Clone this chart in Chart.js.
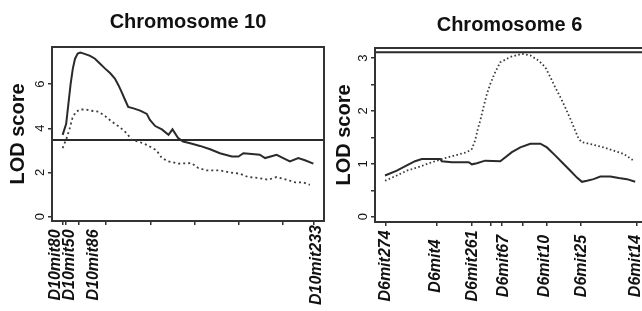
<!DOCTYPE html>
<html>
<head>
<meta charset="utf-8">
<script src="https://cdn.jsdelivr.net/npm/chart.js@4.4.0/dist/chart.umd.min.js"></script>
<style>
  html, body { margin: 0; padding: 0; background: #fff; overflow: hidden; }
  body { width: 642px; height: 311px; position: relative; }
  canvas { position: absolute; top: 0; }
  #chr10 { left: 0; }
  #chr6 { left: 322px; }
</style>
</head>
<body>
<canvas id="chr10" width="330" height="311"></canvas>
<canvas id="chr6" width="330" height="311"></canvas>
<script>
// Chromosome 10, positions in cM
const chr10SolidX = [2.4, 3.2, 3.7, 4.2, 4.7, 5.2, 5.8, 6.4, 7.2, 8.6, 9.7, 10.8, 12.0, 13.1, 14.2, 15.0, 15.7, 16.5, 17.2, 18.4, 19.9, 21.4, 22.1, 23.3, 24.8, 26.3, 27.2, 28.5, 29.6, 31.2, 33.4, 35.7, 37.9, 40.6, 42.1, 43.2, 45.1, 46.9, 48.1, 50.7, 52.2, 53.7, 55.6, 57.1, 59.0];
const chr10Solid  = [3.7, 4.2, 5.1, 6.0, 6.7, 7.15, 7.38, 7.43, 7.38, 7.28, 7.15, 6.93, 6.7, 6.5, 6.25, 5.95, 5.65, 5.28, 4.97, 4.9, 4.8, 4.65, 4.38, 4.1, 3.95, 3.7, 3.95, 3.55, 3.4, 3.32, 3.2, 3.05, 2.87, 2.72, 2.72, 2.87, 2.83, 2.8, 2.65, 2.8, 2.65, 2.5, 2.65, 2.55, 2.4];
const chr10DotX   = [2.4, 3.3, 4.0, 4.6, 5.4, 6.4, 7.6, 8.6, 10.5, 12.0, 13.5, 15.3, 16.9, 18.0, 19.5, 21.4, 23.6, 24.8, 26.3, 28.5, 31.5, 33.0, 34.9, 37.9, 40.2, 42.4, 44.3, 46.6, 48.8, 50.7, 53.0, 54.9, 56.7, 58.2];
const chr10Dotted = [3.1, 3.55, 4.0, 4.45, 4.75, 4.85, 4.85, 4.8, 4.75, 4.55, 4.3, 4.05, 3.77, 3.47, 3.4, 3.25, 3.0, 2.65, 2.5, 2.4, 2.42, 2.2, 2.09, 2.09, 2.0, 1.94, 1.79, 1.75, 1.67, 1.79, 1.67, 1.55, 1.55, 1.44];
const chr10Threshold = 3.47;
const chr10Markers = ['D10mit80', 'D10mit50', 'D10mit86', 'D10mit233'];
const chr10LabelAt = [0.8, 3.9, 9.5, 59.7];
const chr10Ticks = [2.4, 3.1, 6.1, 12.2, 22.2, 32.2, 42.2, 52.2, 59.0];
const chr10YTicks = [0, 2, 4, 6];

// Chromosome 6, positions in cM
const chr6SolidX = [-0.2, 2.75, 5.25, 7.3, 9.0, 13.6, 14.0, 16.5, 20.7, 21.5, 22.75, 24.8, 28.6, 31.5, 33.6, 36.1, 38.6, 40.25, 42.3, 44.0, 46.1, 47.75, 49.0, 50.25, 51.9, 53.6, 56.1, 58.2, 60.25, 62.3];
const chr6Solid  = [0.78, 0.87, 0.97, 1.05, 1.09, 1.09, 1.05, 1.03, 1.03, 0.99, 1.01, 1.06, 1.05, 1.22, 1.31, 1.38, 1.38, 1.31, 1.16, 1.03, 0.87, 0.74, 0.66, 0.68, 0.71, 0.76, 0.76, 0.73, 0.71, 0.66];
const chr6DotX   = [-0.2, 2.75, 5.25, 8.6, 11.5, 14.0, 17.3, 20.25, 21.5, 22.3, 22.9, 23.6, 24.4, 25.25, 26.1, 27.3, 28.6, 31.1, 34.0, 36.1, 38.2, 39.8, 41.1, 42.3, 43.6, 44.8, 46.1, 47.3, 48.2, 49.0, 51.9, 54.4, 56.9, 59.4, 61.9];
const chr6Dotted = [0.68, 0.78, 0.87, 0.95, 1.03, 1.09, 1.16, 1.22, 1.28, 1.44, 1.63, 1.82, 2.07, 2.32, 2.51, 2.73, 2.92, 3.02, 3.08, 3.05, 2.95, 2.83, 2.64, 2.45, 2.26, 2.07, 1.85, 1.63, 1.47, 1.41, 1.36, 1.31, 1.25, 1.19, 1.06];
const chr6Threshold = 3.11;
const chr6Markers = ['D6mit274', 'D6mit4', 'D6mit261', 'D6mit67', 'D6mit10', 'D6mit25', 'D6mit14'];
const chr6LabelAt = [0, 12.5, 21.8, 29.4, 39.6, 48.8, 62.3];
const chr6Ticks = [0, 12.75, 21.5, 26.1, 29.0, 34.25, 40.25, 48.8, 62.75];
const chr6YTicks = [0, 0.5, 1, 1.5, 2, 2.5, 3];

const FONT = '"Liberation Sans", Arial, Helvetica, sans-serif';
const INK = '#333';

const toPoints = (xs, ys) => xs.map((x, i) => ({ x, y: ys[i] }));

// frame, title and marker names
const panelDecor = {
  id: 'panelDecor',
  afterDraw(chart, args, opts) {
    const { ctx, chartArea: a } = chart;
    const xs = chart.scales.x;
    ctx.save();
    ctx.strokeStyle = INK;
    ctx.lineWidth = 2;
    ctx.strokeRect(a.left, a.top, a.right - a.left, a.bottom - a.top);

    ctx.fillStyle = '#111';
    ctx.font = 'bold 20px ' + FONT;
    ctx.textAlign = 'center';
    ctx.textBaseline = 'alphabetic';
    ctx.fillText(opts.title, (a.left + a.right) / 2, opts.titleY);

    ctx.font = 'italic bold 16px ' + FONT;
    ctx.textBaseline = 'middle';
    opts.names.forEach((name, i) => {
      ctx.save();
      ctx.translate(xs.getPixelForValue(opts.nameAt[i]), a.bottom + 44);
      ctx.rotate(-Math.PI / 2);
      ctx.fillText(name, 0, 0);
      ctx.restore();
    });
    ctx.restore();
  }
};

function drawPanel(id, p) {
  new Chart(document.getElementById(id), {
    type: 'line',
    data: {
      datasets: [
        {
          data: toPoints(p.solidX, p.solid),
          borderColor: '#2a2a2a', borderWidth: 2, pointRadius: 0, tension: 0
        },
        {
          data: toPoints(p.dotX, p.dotted),
          borderColor: '#3c3c3c', borderWidth: 1.8, borderDash: p.dash, pointRadius: 0, tension: 0
        },
        {
          data: [{ x: p.xMin, y: p.threshold }, { x: p.xMax, y: p.threshold }],
          borderColor: '#2a2a2a', borderWidth: 2, pointRadius: 0
        }
      ]
    },
    options: {
      responsive: false,
      animation: false,
      layout: { padding: p.padding },
      plugins: {
        legend: { display: false },
        tooltip: { enabled: false },
        panelDecor: { title: p.title, titleY: p.titleY, names: p.names, nameAt: p.nameAt }
      },
      scales: {
        x: {
          type: 'linear',
          min: p.xMin, max: p.xMax,
          afterBuildTicks: s => { s.ticks = p.xTicks.map(v => ({ value: v })); },
          afterFit: s => { s.height = p.xAxisHeight; },
          border: { display: false },
          grid: { drawOnChartArea: false, tickLength: 4, tickColor: INK, lineWidth: 1.5 },
          ticks: { autoSkip: false, maxRotation: 0, callback: () => '' }
        },
        y: {
          type: 'linear',
          min: p.yMin, max: p.yMax,
          afterBuildTicks: s => { s.ticks = p.yTicks.map(v => ({ value: v })); },
          afterFit: s => { s.width = p.yAxisWidth; },
          border: { display: false },
          grid: { drawOnChartArea: false, tickLength: 4, tickColor: INK, lineWidth: 1.5 },
          ticks: {
            minRotation: 90, maxRotation: 90, crossAlign: 'center', padding: 4,
            color: '#111', font: { size: 13, family: FONT },
            callback: v => Number.isInteger(v) ? v : ''
          },
          title: {
            display: true, text: 'LOD score', color: '#111',
            font: { size: 20, weight: 'bold', family: FONT },
            padding: { top: p.yTitlePad, bottom: 0 }
          }
        }
      }
    },
    plugins: [panelDecor]
  });
}

drawPanel('chr10', {
  title: 'Chromosome 10', titleY: 28,
  solidX: chr10SolidX, solid: chr10Solid, dotX: chr10DotX, dotted: chr10Dotted,
  threshold: chr10Threshold, dash: [2, 3],
  xMin: 0, xMax: 61.4, yMin: -0.2, yMax: 7.68,
  xTicks: chr10Ticks, yTicks: chr10YTicks,
  names: chr10Markers, nameAt: chr10LabelAt,
  padding: { top: 47, left: 0, right: 6, bottom: 0 },
  xAxisHeight: 90, yAxisWidth: 52, yTitlePad: 6
});

drawPanel('chr6', {
  title: 'Chromosome 6', titleY: 31,
  solidX: chr6SolidX, solid: chr6Solid, dotX: chr6DotX, dotted: chr6Dotted,
  threshold: chr6Threshold, dash: [1.6, 2.4],
  xMin: -2.7, xMax: 64.5, yMin: -0.1, yMax: 3.19,
  xTicks: chr6Ticks, yTicks: chr6YTicks,
  names: chr6Markers, nameAt: chr6LabelAt,
  padding: { top: 48, left: 0, right: 8, bottom: 0 },
  xAxisHeight: 89, yAxisWidth: 53, yTitlePad: 10
});
</script>
</body>
</html>
